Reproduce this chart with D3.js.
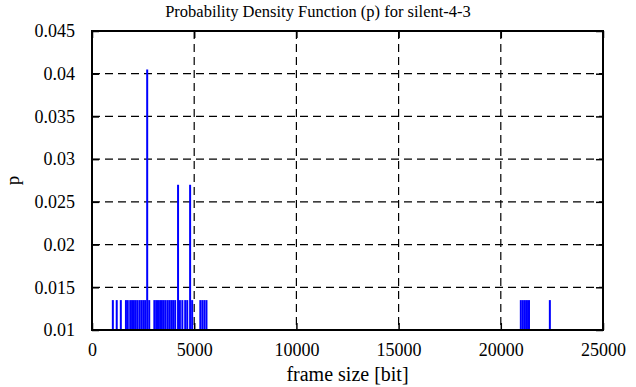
<!DOCTYPE html>
<html>
<head>
<meta charset="utf-8">
<script src="https://cdn.jsdelivr.net/npm/d3@7"></script>
<style>
  body { margin: 0; background: #fff; }
  svg text { font-family: "Liberation Serif", "Times New Roman", Times, "DejaVu Serif", serif !important; fill: #000; }
</style>
</head>
<body>
<div id="chart"></div>
<script>
// frame sizes (bit) and their probability
var frameSizes = [1020, 1210, 1410, 1660, 1750, 1870, 1960, 2050, 2140, 2230, 2330, 2420,
  2510, 2600, 2700, 2800, 3050, 3140, 3230, 3330, 3420, 3510, 3600, 3700, 3790, 3880,
  3970, 4070, 4210, 4300, 4420, 4560, 4660, 4800, 4900, 5300, 5400, 5500, 5600,
  20980, 21080, 21180, 21280, 21380, 22400];
var probs = [0.0135, 0.0135, 0.0135, 0.0135, 0.0135, 0.0135, 0.0135, 0.0135, 0.0135, 0.0135, 0.0135, 0.0135,
  0.0135, 0.0135, 0.0405, 0.0135, 0.0135, 0.0135, 0.0135, 0.0135, 0.0135, 0.0135, 0.0135, 0.0135, 0.0135, 0.0135,
  0.0135, 0.0135, 0.027, 0.0135, 0.0135, 0.0135, 0.0135, 0.027, 0.0135, 0.0135, 0.0135, 0.0135, 0.0135,
  0.0135, 0.0135, 0.0135, 0.0135, 0.0135, 0.0135];
var xTicks = [0, 5000, 10000, 15000, 20000, 25000];
var yTicks = [0.01, 0.015, 0.02, 0.025, 0.03, 0.035, 0.04, 0.045];

var svgWidth = 636;
var svgHeight = 387;
var margin = { top: 31, right: 33, bottom: 57, left: 92 };
var width = svgWidth - margin.left - margin.right;
var height = svgHeight - margin.top - margin.bottom;

var svg = d3.select("#chart").append("svg")
  .attr("width", svgWidth)
  .attr("height", svgHeight);

var chartGroup = svg.append("g")
  .attr("transform", `translate(${margin.left}, ${margin.top})`);

var x = d3.scaleLinear().domain([0, 25000]).range([0, width]);
var y = d3.scaleLinear().domain([0.01, 0.045]).range([height, 0]);

// grid
chartGroup.selectAll(".vgrid")
  .data(xTicks.slice(1, -1))
  .enter().append("line")
  .attr("x1", d => x(d)).attr("x2", d => x(d))
  .attr("y1", 0).attr("y2", height)
  .attr("stroke", "#000").attr("stroke-width", 1.2)
  .attr("stroke-dasharray", "8,5");

chartGroup.selectAll(".hgrid")
  .data(yTicks.slice(1, -1))
  .enter().append("line")
  .attr("x1", 0).attr("x2", width)
  .attr("y1", d => y(d)).attr("y2", d => y(d))
  .attr("stroke", "#000").attr("stroke-width", 1.2)
  .attr("stroke-dasharray", "8,5");

// impulses
var data = frameSizes.map((f, i) => ({ f: f, p: probs[i] }));
chartGroup.selectAll(".imp")
  .data(data)
  .enter().append("line")
  .attr("x1", d => x(d.f)).attr("x2", d => x(d.f))
  .attr("y1", y(0.01)).attr("y2", d => y(d.p))
  .attr("stroke", "#0000ff").attr("stroke-width", 2);

// axes with inside ticks, mirrored
var tl = 7;
chartGroup.append("g")
  .attr("transform", `translate(0, ${height})`)
  .call(d3.axisBottom(x).tickValues(xTicks).tickSize(-tl).tickPadding(tl + 6).tickFormat(d3.format("d")))
  .call(g => g.select(".domain").remove());
chartGroup.append("g")
  .call(d3.axisTop(x).tickValues(xTicks).tickSize(-tl).tickFormat(""))
  .call(g => g.select(".domain").remove());
chartGroup.append("g")
  .call(d3.axisLeft(y).tickValues(yTicks).tickSize(-tl).tickPadding(tl + 10).tickFormat(d => +d.toFixed(3)))
  .call(g => g.select(".domain").remove());
chartGroup.append("g")
  .attr("transform", `translate(${width}, 0)`)
  .call(d3.axisRight(y).tickValues(yTicks).tickSize(-tl).tickFormat(""))
  .call(g => g.select(".domain").remove());

chartGroup.selectAll("g").attr("font-family", null);
chartGroup.selectAll(".tick line").attr("stroke", "#000").attr("stroke-width", 1.5);
chartGroup.selectAll(".tick text")
  .attr("font-size", "18px").attr("fill", "#000");

// frame
chartGroup.append("rect")
  .attr("width", width).attr("height", height)
  .attr("fill", "none").attr("stroke", "#000").attr("stroke-width", 2);

// title and labels
svg.append("text")
  .attr("x", svgWidth / 2).attr("y", 17)
  .attr("text-anchor", "middle").attr("font-size", "16.5px")
  .text("Probability Density Function (p) for silent-4-3");

svg.append("text")
  .attr("x", margin.left + width / 2).attr("y", 381)
  .attr("text-anchor", "middle").attr("font-size", "20px")
  .text("frame size [bit]");

svg.append("text")
  .attr("transform", `translate(19, ${margin.top + height / 2}) rotate(-90)`)
  .attr("text-anchor", "middle").attr("font-size", "19px")
  .text("p");
</script>
</body>
</html>
